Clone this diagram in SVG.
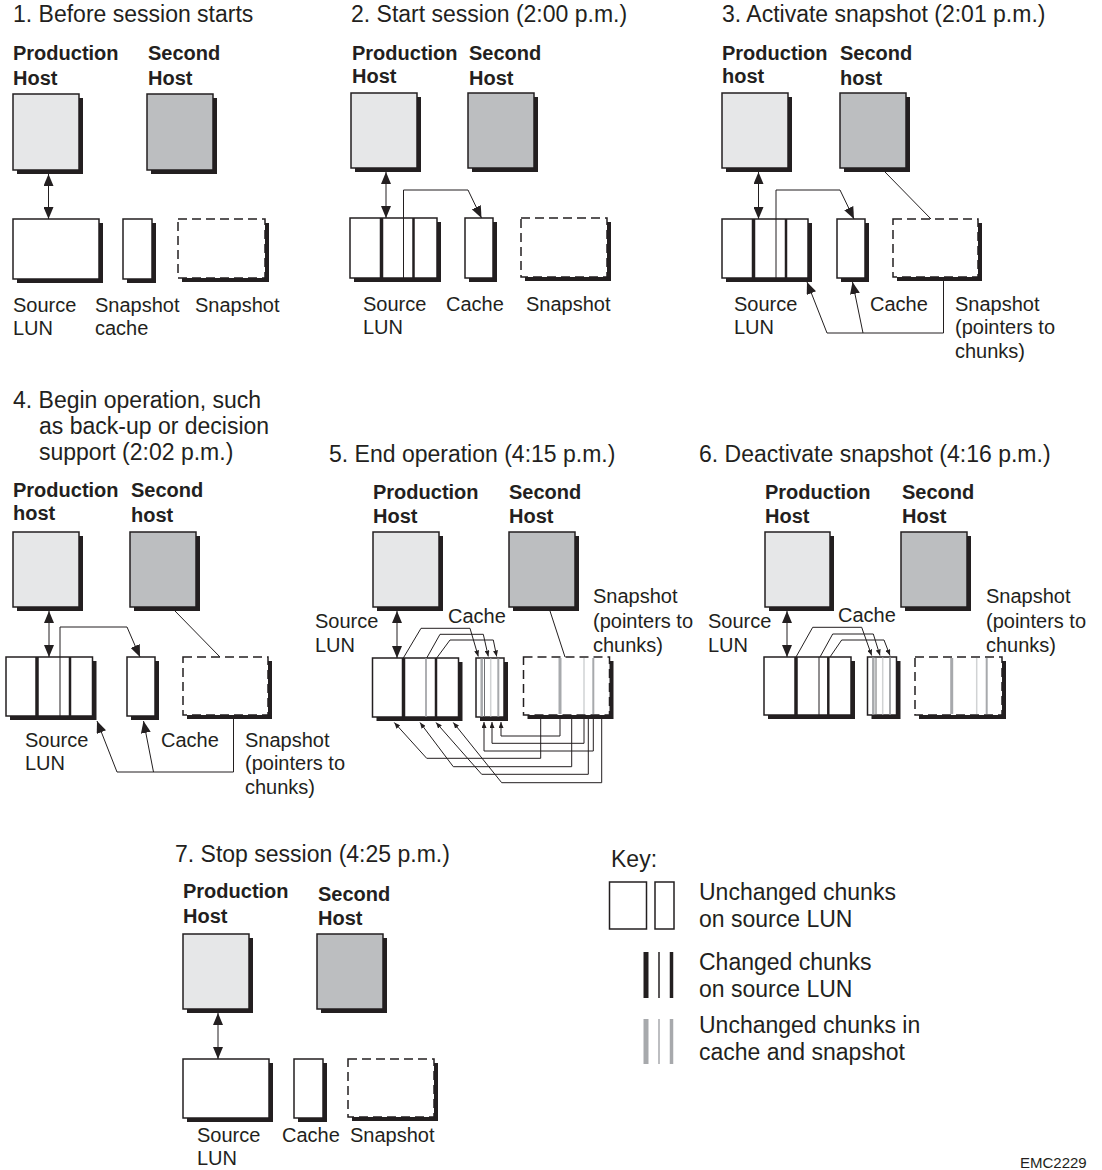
<svg xmlns="http://www.w3.org/2000/svg" width="1102" height="1170" viewBox="0 0 1102 1170">
<defs>
<style>
text{font-family:"Liberation Sans",Arial,Helvetica,sans-serif;fill:#231f20}
.t{font-size:23px}
.b{font-size:20px;font-weight:bold}
.l{font-size:20px}
.k{font-size:23px}
.e{font-size:15px}
.s{fill:#231f20}
.ph{fill:#e6e7e8;stroke:#231f20;stroke-width:1.5}
.sh{fill:#bcbec0;stroke:#231f20;stroke-width:1.5}
.w{fill:#fff;stroke:#231f20;stroke-width:1.5}
.d{fill:#fff;stroke:#231f20;stroke-width:1.5;stroke-dasharray:9 5}
.c{fill:none;stroke:#231f20;stroke-width:1}
.dv{stroke:#231f20}
.g{stroke:#a7a9ac}
.gl{stroke:#d1d3d4}
.gd{stroke:#6d6e71}
</style>
<marker id="a" viewBox="0 0 12 10" refX="12" refY="5" markerWidth="12" markerHeight="10" markerUnits="userSpaceOnUse" orient="auto-start-reverse"><path d="M0,0L12,5L0,10z" fill="#231f20"/></marker>
<marker id="m" viewBox="0 0 6 5" refX="6" refY="2.5" markerWidth="6" markerHeight="5" markerUnits="userSpaceOnUse" orient="auto"><path d="M0,0L6,2.5L0,5z" fill="#231f20"/></marker>
</defs>
<rect width="1102" height="1170" fill="#fff"/>

<!-- Panel 1 -->
<g id="p1-title"><text class="t" x="13" y="22">1. Before session starts</text></g>
<g id="p1-prod"><text class="b" x="13" y="60">Production</text><text class="b" x="13" y="85">Host</text><rect class="s" x="17" y="98" width="66" height="76"/><rect class="ph" x="13" y="94" width="66" height="76"/></g>
<g id="p1-second"><text class="b" x="148" y="60">Second</text><text class="b" x="148" y="85">Host</text><rect class="s" x="151" y="98" width="66" height="76"/><rect class="sh" x="147" y="94" width="66" height="76"/></g>
<g id="p1-lun"><rect class="s" x="17" y="223" width="86" height="60"/><rect class="w" x="13" y="219" width="86" height="60"/><text class="l" x="13" y="312">Source</text><text class="l" x="13" y="335">LUN</text></g>
<g id="p1-cache"><rect class="s" x="127" y="223" width="29" height="60"/><rect class="w" x="123" y="219" width="29" height="60"/><text class="l" x="95" y="312">Snapshot</text><text class="l" x="95" y="335">cache</text></g>
<g id="p1-snap"><rect class="s" x="182" y="223" width="87" height="59"/><rect class="d" x="178" y="219" width="87" height="59"/><text class="l" x="195" y="312">Snapshot</text></g>

<!-- Panel 2 -->
<g id="p2-title"><text class="t" x="351" y="22">2. Start session (2:00 p.m.)</text></g>
<g id="p2-prod"><text class="b" x="352" y="60">Production</text><text class="b" x="352" y="83">Host</text><rect class="s" x="355" y="97" width="66" height="75"/><rect class="ph" x="351" y="93" width="66" height="75"/></g>
<g id="p2-second"><text class="b" x="469" y="60">Second</text><text class="b" x="469" y="85">Host</text><rect class="s" x="472" y="97" width="66" height="75"/><rect class="sh" x="468" y="93" width="66" height="75"/></g>
<g id="p2-lun"><rect class="s" x="354" y="222" width="87" height="60"/><rect class="w" x="350" y="218" width="87" height="60"/><line class="dv" x1="381.5" y1="218" x2="381.5" y2="278" stroke-width="3.5"/><line class="dv" x1="413.5" y1="218" x2="413.5" y2="278" stroke-width="2.5"/><text class="l" x="363" y="311">Source</text><text class="l" x="363" y="334">LUN</text></g>
<g id="p2-cache"><rect class="s" x="469" y="222" width="28" height="60"/><rect class="w" x="465" y="218" width="28" height="60"/><text class="l" x="446" y="311">Cache</text></g>
<g id="p2-snap"><rect class="s" x="525" y="222" width="86" height="59"/><rect class="d" x="521" y="218" width="86" height="59"/><text class="l" x="526" y="311">Snapshot</text></g>

<!-- Panel 3 -->
<g id="p3-title"><text class="t" x="722" y="22">3. Activate snapshot (2:01 p.m.)</text></g>
<g id="p3-prod"><text class="b" x="722" y="60">Production</text><text class="b" x="722" y="83">host</text><rect class="s" x="726" y="97" width="66" height="75"/><rect class="ph" x="722" y="93" width="66" height="75"/></g>
<g id="p3-second"><text class="b" x="840" y="60">Second</text><text class="b" x="840" y="85">host</text><rect class="s" x="844" y="97" width="66" height="75"/><rect class="sh" x="840" y="93" width="66" height="75"/></g>
<g id="p3-lun"><rect class="s" x="726" y="223" width="86" height="59"/><rect class="w" x="722" y="219" width="86" height="59"/><line class="dv" x1="753.5" y1="219" x2="753.5" y2="278" stroke-width="3.5"/><line class="dv" x1="786" y1="219" x2="786" y2="278" stroke-width="2.5"/><text class="l" x="734" y="311">Source</text><text class="l" x="734" y="334">LUN</text></g>
<g id="p3-cache"><rect class="s" x="841" y="223" width="28" height="59"/><rect class="w" x="837" y="219" width="28" height="59"/><text class="l" x="870" y="311">Cache</text></g>
<g id="p3-snap"><rect class="s" x="897" y="223" width="85" height="58"/><rect class="d" x="893" y="219" width="85" height="58"/><text class="l" x="955" y="311">Snapshot</text><text class="l" x="955" y="334">(pointers to</text><text class="l" x="955" y="358">chunks)</text></g>

<!-- Panel 4 -->
<g id="p4-title"><text class="t" x="13" y="408">4. Begin operation, such</text><text class="t" x="39" y="434">as back-up or decision</text><text class="t" x="39" y="460">support (2:02 p.m.)</text></g>
<g id="p4-prod"><text class="b" x="13" y="497">Production</text><text class="b" x="13" y="520">host</text><rect class="s" x="17" y="536" width="66" height="75"/><rect class="ph" x="13" y="532" width="66" height="75"/></g>
<g id="p4-second"><text class="b" x="131" y="497">Second</text><text class="b" x="131" y="522">host</text><rect class="s" x="134" y="536" width="66" height="75"/><rect class="sh" x="130" y="532" width="66" height="75"/></g>
<g id="p4-lun"><rect class="s" x="10" y="661" width="86.5" height="59"/><rect class="w" x="6" y="657" width="86.5" height="59"/><line class="dv" x1="37" y1="657" x2="37" y2="716" stroke-width="3.5"/><line class="dv" x1="70" y1="657" x2="70" y2="716" stroke-width="2.5"/><text class="l" x="25" y="747">Source</text><text class="l" x="25" y="770">LUN</text></g>
<g id="p4-cache"><rect class="s" x="131" y="661" width="28" height="59"/><rect class="w" x="127" y="657" width="28" height="59"/><text class="l" x="161" y="747">Cache</text></g>
<g id="p4-snap"><rect class="s" x="187" y="661" width="85" height="58"/><rect class="d" x="183" y="657" width="85" height="58"/><text class="l" x="245" y="747">Snapshot</text><text class="l" x="245" y="770">(pointers to</text><text class="l" x="245" y="794">chunks)</text></g>

<!-- Panel 5 -->
<g id="p5-title"><text class="t" x="329" y="462">5. End operation (4:15 p.m.)</text></g>
<g id="p5-prod"><text class="b" x="373" y="499">Production</text><text class="b" x="373" y="523">Host</text><rect class="s" x="377" y="536" width="66" height="75"/><rect class="ph" x="373" y="532" width="66" height="75"/></g>
<g id="p5-second"><text class="b" x="509" y="499">Second</text><text class="b" x="509" y="523">Host</text><rect class="s" x="513" y="536" width="66" height="75"/><rect class="sh" x="509" y="532" width="66" height="75"/></g>
<g id="p5-lun"><rect class="s" x="376.5" y="662" width="86" height="59"/><rect class="w" x="372.5" y="658" width="86" height="59"/><line class="dv" x1="403.5" y1="658" x2="403.5" y2="717" stroke-width="3.5"/><line x1="426" y1="658" x2="426" y2="717" stroke="#939598" stroke-width="1.5"/><line class="dv" x1="436" y1="658" x2="436" y2="717" stroke-width="2.5"/><text class="l" x="315" y="628">Source</text><text class="l" x="315" y="652">LUN</text></g>
<g id="p5-cache"><rect class="s" x="480" y="662" width="28" height="59"/><rect class="w" x="476" y="658" width="28" height="59"/><line class="g" x1="481.7" y1="658.5" x2="481.7" y2="716.5" stroke-width="2.5"/><line class="gd" x1="484.5" y1="658.5" x2="484.5" y2="716.5" stroke-width="1"/><line class="gl" x1="490.7" y1="658.5" x2="490.7" y2="716.5" stroke-width="1.5"/><line class="g" x1="498.3" y1="658.5" x2="498.3" y2="716.5" stroke-width="2"/><text class="l" x="448" y="623">Cache</text></g>
<g id="p5-snap"><rect class="s" x="527.5" y="661" width="86" height="58"/><rect class="d" x="523.5" y="657" width="86" height="58"/><line class="g" x1="560" y1="658" x2="560" y2="714" stroke-width="3"/><line class="gl" x1="584" y1="658" x2="584" y2="714" stroke-width="1.5"/><line class="g" x1="593.3" y1="658" x2="593.3" y2="714" stroke-width="2"/><text class="l" x="593" y="603">Snapshot</text><text class="l" x="593" y="628">(pointers to</text><text class="l" x="593" y="652">chunks)</text></g>

<!-- Panel 6 -->
<g id="p6-title"><text class="t" x="699" y="462">6. Deactivate snapshot (4:16 p.m.)</text></g>
<g id="p6-prod"><text class="b" x="765" y="499">Production</text><text class="b" x="765" y="523">Host</text><rect class="s" x="769" y="536" width="65" height="75"/><rect class="ph" x="765" y="532" width="65" height="75"/></g>
<g id="p6-second"><text class="b" x="902" y="499">Second</text><text class="b" x="902" y="523">Host</text><rect class="s" x="905" y="536" width="66" height="75"/><rect class="sh" x="901" y="532" width="66" height="75"/></g>
<g id="p6-lun"><rect class="s" x="768" y="661" width="87" height="58"/><rect class="w" x="764" y="657" width="87" height="58"/><line class="dv" x1="796" y1="657" x2="796" y2="715" stroke-width="3.5"/><line class="dv" x1="819" y1="657" x2="819" y2="715" stroke-width="1"/><line class="dv" x1="828.3" y1="657" x2="828.3" y2="715" stroke-width="2.5"/><text class="l" x="708" y="628">Source</text><text class="l" x="708" y="652">LUN</text></g>
<g id="p6-cache"><rect class="s" x="871.5" y="661" width="29" height="58"/><rect class="w" x="867.5" y="657" width="29" height="58"/><line class="g" x1="873.3" y1="657.5" x2="873.3" y2="714.5" stroke-width="2.5"/><line class="gd" x1="876" y1="657.5" x2="876" y2="714.5" stroke-width="1"/><line class="gl" x1="882.7" y1="657.5" x2="882.7" y2="714.5" stroke-width="1.5"/><line class="g" x1="890" y1="657.5" x2="890" y2="714.5" stroke-width="2"/><text class="l" x="838" y="622">Cache</text></g>
<g id="p6-snap"><rect class="s" x="919" y="661" width="87" height="58"/><rect class="d" x="915" y="657" width="87" height="58"/><line class="g" x1="951.7" y1="658" x2="951.7" y2="714" stroke-width="3"/><line class="gl" x1="976.7" y1="658" x2="976.7" y2="714" stroke-width="1.5"/><line class="g" x1="986.7" y1="658" x2="986.7" y2="714" stroke-width="2"/><text class="l" x="986" y="603">Snapshot</text><text class="l" x="986" y="628">(pointers to</text><text class="l" x="986" y="652">chunks)</text></g>

<!-- Panel 7 -->
<g id="p7-title"><text class="t" x="175" y="862">7. Stop session (4:25 p.m.)</text></g>
<g id="p7-prod"><text class="b" x="183" y="898">Production</text><text class="b" x="183" y="923">Host</text><rect class="s" x="187" y="938" width="66" height="75"/><rect class="ph" x="183" y="934" width="66" height="75"/></g>
<g id="p7-second"><text class="b" x="318" y="901">Second</text><text class="b" x="318" y="925">Host</text><rect class="s" x="321" y="938" width="66" height="75"/><rect class="sh" x="317" y="934" width="66" height="75"/></g>
<g id="p7-lun"><rect class="s" x="187" y="1063" width="86" height="59"/><rect class="w" x="183" y="1059" width="86" height="59"/><text class="l" x="197" y="1142">Source</text><text class="l" x="197" y="1165">LUN</text></g>
<g id="p7-cache"><rect class="s" x="298" y="1063" width="29" height="59"/><rect class="w" x="294" y="1059" width="29" height="59"/><text class="l" x="282" y="1142">Cache</text></g>
<g id="p7-snap"><rect class="s" x="352" y="1063" width="86" height="58"/><rect class="d" x="348" y="1059" width="86" height="58"/><text class="l" x="350" y="1142">Snapshot</text></g>

<!-- Key -->
<g id="key">
<text class="k" x="611" y="867">Key:</text>
<rect x="609.5" y="882" width="37" height="47" fill="#fff" stroke="#231f20" stroke-width="1.5"/>
<rect x="655" y="882" width="19" height="47" fill="#fff" stroke="#231f20" stroke-width="1.5"/>
<text class="k" x="699" y="900">Unchanged chunks</text>
<text class="k" x="699" y="927">on source LUN</text>
<line class="dv" x1="646" y1="952" x2="646" y2="998" stroke-width="5"/>
<line class="dv" x1="659" y1="952" x2="659" y2="998" stroke-width="1.5"/>
<line class="dv" x1="671.5" y1="952" x2="671.5" y2="998" stroke-width="3.5"/>
<text class="k" x="699" y="970">Changed chunks</text>
<text class="k" x="699" y="997">on source LUN</text>
<line class="g" x1="646" y1="1019" x2="646" y2="1064" stroke-width="5"/>
<line class="g" x1="659" y1="1019" x2="659" y2="1064" stroke-width="1.5"/>
<line class="g" x1="671.5" y1="1019" x2="671.5" y2="1064" stroke-width="3.5"/>
<text class="k" x="699" y="1033">Unchanged chunks in</text>
<text class="k" x="699" y="1060">cache and snapshot</text>
</g>
<g id="figure-id"><text class="e" x="1020" y="1168">EMC2229</text></g>

<!-- Connectors -->
<g id="connectors" class="c">
<line x1="48.5" y1="174" x2="48.5" y2="219" marker-start="url(#a)" marker-end="url(#a)"/>

<line x1="386" y1="172" x2="386" y2="218" marker-start="url(#a)" marker-end="url(#a)"/>
<path d="M403.5,278V190H468L481.5,218" marker-end="url(#a)"/>

<line x1="758.5" y1="172" x2="758.5" y2="219" marker-start="url(#a)" marker-end="url(#a)"/>
<path d="M776,278V190H840L854,219" marker-end="url(#a)"/>
<path d="M885,172L931,219"/>
<path d="M943.5,281V333H827L807,282" marker-end="url(#a)"/>
<path d="M863,333L852.5,282" marker-end="url(#a)"/>

<line x1="49" y1="611" x2="49" y2="657" marker-start="url(#a)" marker-end="url(#a)"/>
<path d="M60,716V627H127L140,657" marker-end="url(#a)"/>
<path d="M175,611L220,657"/>
<path d="M233.5,719V772H117L97,721" marker-end="url(#a)"/>
<path d="M153.5,772L143.5,721" marker-end="url(#a)"/>

<line x1="397" y1="611" x2="397" y2="658" marker-start="url(#a)" marker-end="url(#a)"/>
<path d="M550,611L565,657"/>
<path d="M403.3,658L421,628.3H470L478.3,656.5" marker-end="url(#m)"/>
<path d="M426.7,658L440,634.3H483.3L488.3,656.5" marker-end="url(#m)"/>
<path d="M436.7,658L450,640H493.3L496.7,656.5" marker-end="url(#m)"/>
<path d="M560,719V736H501V722" marker-end="url(#m)"/>
<path d="M584,719V743.3H492V722" marker-end="url(#m)"/>
<path d="M593.3,719V751H484V722" marker-end="url(#m)"/>
<path d="M540.7,719V758.3H426.7L394.3,722.5" marker-end="url(#m)"/>
<path d="M571.7,719V766.7H453.3L420,722.5" marker-end="url(#m)"/>
<path d="M588.3,719V774.3H481.7L436,722.5" marker-end="url(#m)"/>
<path d="M601.7,719V782.7H501.7L453.3,722.5" marker-end="url(#m)"/>

<line x1="787" y1="611" x2="787" y2="657" marker-start="url(#a)" marker-end="url(#a)"/>
<path d="M796,657L812.7,627.3H861.7L871.7,655.5" marker-end="url(#m)"/>
<path d="M820,657L832.7,634H873.3L880,655.5" marker-end="url(#m)"/>
<path d="M830,657L841.7,640H884L890,655.5" marker-end="url(#m)"/>

<line x1="218" y1="1013" x2="218" y2="1059" marker-start="url(#a)" marker-end="url(#a)"/>
</g>
</svg>
